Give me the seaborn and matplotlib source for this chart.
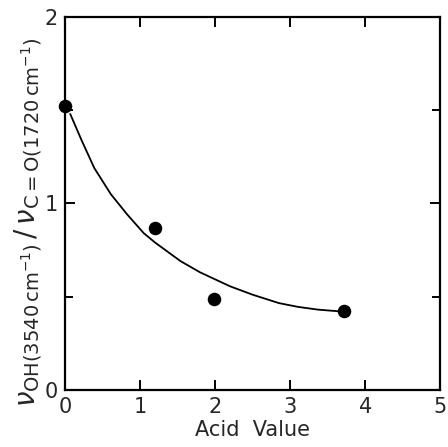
import matplotlib
matplotlib.use("Agg")
import matplotlib.pyplot as plt
import seaborn as sns
import pandas as pd
from matplotlib.ticker import MultipleLocator

# measured data points
acid_value = [0.0, 1.20, 1.98, 3.71]
ratio = [1.52, 0.87, 0.485, 0.42]

# fitted curve, read point-by-point from the picture
curve_x = [0.07, 0.22, 0.39, 0.61, 0.83, 1.05, 1.2, 1.54, 1.8, 2.2, 2.5, 2.85, 3.1, 3.37, 3.68]
curve_y = [1.48, 1.34, 1.19, 1.05, 0.94, 0.84, 0.79, 0.69, 0.63, 0.555, 0.51, 0.465, 0.445, 0.43, 0.42]

x_ticks = [0, 1, 2, 3, 4, 5]
y_ticks = [0, 1, 2]
x_label = "Acid  Value"
y_label = r"$\nu_{\mathrm{OH}(3540\,\mathrm{cm}^{-1})}\,/\,\nu_{\mathrm{C=O}(1720\,\mathrm{cm}^{-1})}$"

sns.set_style("ticks")
plt.rcParams["font.family"] = ["DejaVu Sans"]
plt.rcParams["mathtext.fontset"] = "dejavusans"

pts = pd.DataFrame({"x": acid_value, "y": ratio})
crv = pd.DataFrame({"x": curve_x, "y": curve_y})

fig = plt.figure(figsize=(4.48, 4.47), dpi=100)
ax = fig.add_axes([0.145, 0.128, 0.838, 0.834])

sns.lineplot(data=crv, x="x", y="y", ax=ax, color="black", linewidth=1.3, sort=False)
sns.scatterplot(data=pts, x="x", y="y", ax=ax, color="black", s=95, edgecolor="black",
                linewidth=0, clip_on=False, zorder=5)

ax.set_xlim(0, 5)
ax.set_ylim(0, 2)
ax.set_xticks(x_ticks)
ax.set_yticks(y_ticks)
ax.yaxis.set_minor_locator(MultipleLocator(0.5))
ax.tick_params(which="both", direction="in", top=True, right=True, width=1.4, color="black")
ax.tick_params(which="major", length=7, labelsize=15, pad=5)
ax.tick_params(which="minor", length=6)
for s in ax.spines.values():
    s.set_linewidth(1.6)
    s.set_color("black")

ax.set_xlabel(x_label, fontsize=15, labelpad=2)
ax.set_ylabel(y_label, fontsize=20, labelpad=0)
ax.yaxis.set_label_coords(-0.055, 0.45)

fig.savefig("out.png", dpi=100)
